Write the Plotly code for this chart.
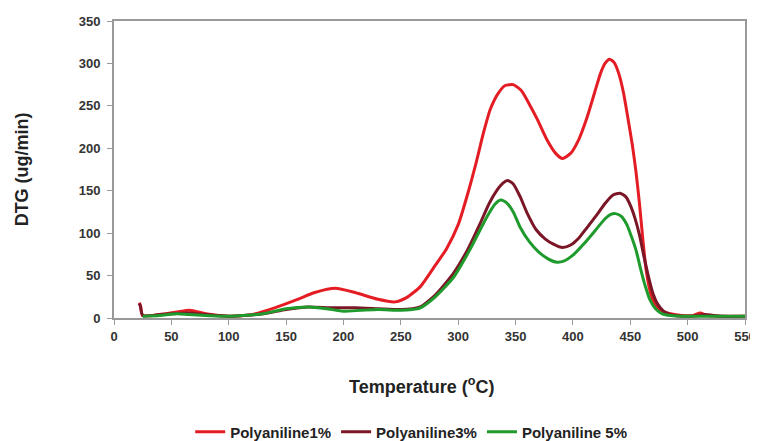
import plotly.graph_objects as go

# Polyaniline 1%
temp_1 = [22, 23, 25, 40, 55, 66, 80, 100, 120, 140, 160, 175, 193, 210, 230, 245, 255, 267, 278, 290,
          300, 308, 316, 322, 328, 335, 341, 348, 355, 362, 369, 377, 385, 391, 398, 405, 412, 419, 424,
          428, 432, 436, 440, 444, 448, 452, 455, 458, 461, 464, 468, 473, 478, 485, 495, 505, 511, 517, 530, 550]
dtg_1 = [18, 15, 3, 4, 7, 9, 5, 2, 4, 12, 22, 30, 35, 30, 22, 19, 24, 37, 58, 82,
         110, 145, 185, 218, 246, 265, 274, 275, 268, 252, 234, 211, 194, 188, 194, 210, 235, 266, 288,
         300, 305, 301, 288, 266, 235, 202, 172, 135, 92, 55, 28, 13, 8, 5, 3, 3, 6, 3, 2, 2]

# Polyaniline 3%
temp_3 = [22, 23, 25, 40, 50, 65, 80, 100, 130, 150, 170, 190, 210, 230, 250, 260, 267, 280, 296, 308,
          319, 327, 334, 339, 343, 348, 354, 360, 368, 376, 383, 391, 398, 405, 412, 420, 428, 435, 441,
          446, 450, 454, 458, 462, 466, 470, 474, 479, 485, 495, 510, 515, 530, 550]
dtg_3 = [17, 14, 3, 4, 5, 6, 4, 2, 5, 10, 13, 12, 12, 11, 10, 11, 13, 27, 53, 80,
         111, 135, 151, 159, 162, 158, 143, 124, 104, 93, 87, 83, 86, 94, 106, 120, 135, 145, 147,
         143, 133, 118, 98, 72, 48, 28, 16, 8, 4, 2, 3, 4, 2, 2]

# Polyaniline 5%
temp_5 = [25, 40, 55, 65, 80, 100, 130, 150, 170, 185, 200, 215, 230, 250, 260, 267, 280, 296, 310,
          325, 332, 337, 342, 348, 354, 362, 370, 378, 385, 392, 400, 410, 420, 428, 433, 437, 442,
          447, 451, 455, 459, 463, 467, 472, 478, 485, 500, 530, 550]
dtg_5 = [2, 3, 5, 4, 3, 2, 5, 11, 13, 11, 8, 9, 10, 9, 10, 12, 25, 48, 80,
         119, 134, 139, 136, 125, 107, 90, 78, 70, 66, 67, 74, 88, 104, 117, 122, 123, 120,
         110, 96, 80, 58, 38, 22, 11, 5, 3, 2, 2, 2]

x_ticks = [0, 50, 100, 150, 200, 250, 300, 350, 400, 450, 500, 550]
y_ticks = [0, 50, 100, 150, 200, 250, 300, 350]

series = [
    ("Polyaniline1%", temp_1, dtg_1, "#e41d25"),
    ("Polyaniline3%", temp_3, dtg_3, "#7a1626"),
    ("Polyaniline 5%", temp_5, dtg_5, "#1f9a2c"),
]

fig = go.Figure()
for name, xs, ys, col in series:
    fig.add_trace(go.Scatter(x=xs, y=ys, name=name, mode="lines",
                             line=dict(color=col, width=3, shape="spline", smoothing=0.6)))

font_fam = "Liberation Sans, Arial, sans-serif"
# the page body has an 8px margin, so the figure is sized to fit inside the window
fig.update_layout(
    width=750, height=433,
    margin=dict(l=106, r=13, t=13, b=123, autoexpand=False),
    paper_bgcolor="white", plot_bgcolor="white",
    showlegend=True,
    legend=dict(orientation="h", x=0.471, xanchor="center", xref="paper",
                y=0.021, yref="container", yanchor="middle",
                font=dict(family=font_fam, size=15, color="#222", weight="bold"),
                itemwidth=30, tracegroupgap=0, bgcolor="rgba(0,0,0,0)"),
    xaxis=dict(range=[0, 550], tickvals=x_ticks, showgrid=False, zeroline=False,
               showline=True, linecolor="#999", linewidth=2, mirror=True,
               ticks="outside", ticklen=5, tickcolor="#999", automargin=False,
               tickfont=dict(family=font_fam, size=13, color="#333", weight="bold")),
    yaxis=dict(range=[0, 350], tickvals=y_ticks, showgrid=False, zeroline=False,
               showline=True, linecolor="#999", linewidth=2, mirror=True,
               ticks="outside", ticklen=5, tickcolor="#999", automargin=False,
               ticklabelstandoff=4,
               tickfont=dict(family=font_fam, size=13, color="#333", weight="bold")),
    annotations=[
        dict(text="Temperature (<sup>o</sup>C)", xref="paper", yref="paper", x=0.487, y=-0.226,
             showarrow=False, xanchor="center", yanchor="middle",
             font=dict(family=font_fam, size=18, color="#222", weight="bold")),
        dict(text="DTG (ug/min)", xref="paper", yref="paper", x=-0.146, y=0.5, textangle=-90,
             showarrow=False, xanchor="center", yanchor="middle",
             font=dict(family=font_fam, size=18, color="#222", weight="bold")),
    ],
)

fig.write_html("out.html")
